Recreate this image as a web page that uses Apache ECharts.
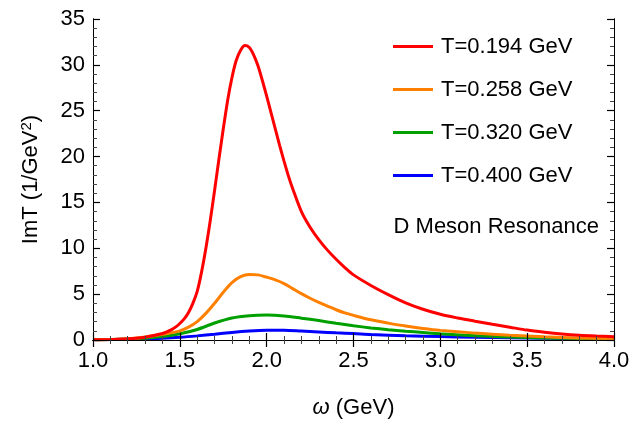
<!DOCTYPE html>
<html>
<head>
<meta charset="utf-8">
<script src="https://cdn.jsdelivr.net/npm/echarts@6/dist/echarts.min.js"></script>
<style>
html,body{margin:0;padding:0;background:#fff;}
#wrap{position:relative;width:644px;height:428px;}
#ticks,#chart{position:absolute;left:0;top:0;width:644px;height:428px;}
#chart{z-index:1;}
#ticks{z-index:2;pointer-events:none;}
</style>
</head>
<body>
<div id="wrap"><div id="chart"></div><div id="ticks"></div></div>
<script>
// ---- data ----
const seriesNames = ["T=0.194 GeV", "T=0.258 GeV", "T=0.320 GeV", "T=0.400 GeV"];

const omegaRed = [1.0,1.1,1.2,1.3,1.4,1.425,1.45,1.475,1.5,1.525,1.55,1.575,1.6,1.625,1.65,1.675,1.7,1.725,1.75,1.775,1.8,1.825,1.85,1.875,1.9,1.925,1.95,1.975,2.0,2.025,2.05,2.075,2.1,2.125,2.15,2.2,2.25,2.3,2.35,2.4,2.45,2.5,2.6,2.7,2.8,2.9,3.0,3.1,3.2,3.3,3.4,3.5,3.6,3.7,3.8,3.9,4.0];
const imtRed   = [0.02,0.06,0.13,0.3,0.7,0.88,1.1,1.4,1.8,2.3,3.0,4.0,5.3,7.4,10.0,13.0,16.3,19.7,23.0,26.1,28.6,30.5,31.6,32.1,31.9,31.1,29.9,28.3,26.6,24.8,23.0,21.2,19.5,17.9,16.5,14.0,12.3,10.95,9.8,8.8,7.9,7.1,5.95,4.95,4.05,3.35,2.8,2.4,2.05,1.72,1.4,1.08,0.85,0.66,0.52,0.43,0.36];

const omegaOrange = [1.0,1.1,1.2,1.3,1.4,1.5,1.55,1.6,1.65,1.7,1.75,1.8,1.85,1.9,1.95,2.0,2.05,2.1,2.15,2.2,2.25,2.3,2.35,2.4,2.45,2.5,2.6,2.7,2.8,2.9,3.0,3.2,3.4,3.6,3.8,4.0];
const imtOrange   = [0.02,0.06,0.15,0.33,0.62,1.0,1.4,2.0,2.9,4.0,5.2,6.25,6.9,7.15,7.1,6.85,6.55,6.15,5.6,5.05,4.55,4.1,3.7,3.3,2.95,2.68,2.2,1.84,1.52,1.26,1.05,0.75,0.52,0.35,0.23,0.15];

const omegaGreen = [1.0,1.1,1.2,1.3,1.4,1.5,1.6,1.7,1.8,1.9,2.0,2.1,2.2,2.3,2.4,2.5,2.6,2.7,2.8,2.9,3.0,3.2,3.4,3.6,3.8,4.0];
const imtGreen   = [0.02,0.05,0.1,0.2,0.38,0.68,1.15,1.85,2.4,2.65,2.72,2.62,2.38,2.12,1.82,1.55,1.32,1.12,0.96,0.82,0.68,0.46,0.32,0.22,0.15,0.1];

const omegaBlue = [1.0,1.2,1.4,1.5,1.6,1.7,1.8,1.9,2.0,2.1,2.2,2.3,2.4,2.5,2.6,2.8,3.0,3.2,3.4,3.6,3.8,4.0];
const imtBlue   = [0.02,0.07,0.2,0.3,0.45,0.63,0.82,0.97,1.06,1.07,0.98,0.88,0.78,0.7,0.6,0.46,0.37,0.3,0.24,0.19,0.15,0.12];

const xTicks = [1.0, 1.5, 2.0, 2.5, 3.0, 3.5, 4.0];
const yTicks = [0, 5, 10, 15, 20, 25, 30, 35];

const colors = ["#ff0000", "#ff8000", "#00a000", "#0000ff"];
// ----------------------------------------

function pairs(xs, ys){ return xs.map((x,i)=>[x, ys[i]]); }
const allData = [pairs(omegaRed, imtRed), pairs(omegaOrange, imtOrange), pairs(omegaGreen, imtGreen), pairs(omegaBlue, imtBlue)];

const FONT = "Liberation Sans, Arial, sans-serif";
const GRID = {left: 93, right: 30, top: 19, bottom: 88};

// ---- the chart itself (bottom layer) ----
function xAxisCfg(pos, showLabel){
  return {
    type: 'value', position: pos, min: xTicks[0], max: xTicks[xTicks.length-1], interval: 0.5,
    axisLine: {show: true, lineStyle: {color: '#000', width: 1}},
    axisTick: {show: false}, minorTick: {show: false},
    splitLine: {show: false},
    axisLabel: {show: showLabel, color: '#000', fontSize: 22, fontFamily: FONT, margin: 10,
      formatter: v => v.toFixed(1)},
    name: showLabel ? '{i|ω} (GeV)' : '',
    nameLocation: 'middle', nameGap: 57,
    nameTextStyle: {color: '#000', fontSize: 22, fontFamily: FONT,
      rich: {i: {fontStyle: 'italic', fontSize: 22, fontFamily: FONT, color: '#000'}}}
  };
}
function yAxisCfg(pos, showLabel){
  return {
    type: 'value', position: pos, min: yTicks[0], max: yTicks[yTicks.length-1], interval: 5,
    axisLine: {show: true, lineStyle: {color: '#000', width: 1}},
    axisTick: {show: false}, minorTick: {show: false},
    splitLine: {show: false},
    axisLabel: {show: showLabel, color: '#000', fontSize: 22, fontFamily: FONT, margin: 8},
    name: showLabel ? 'ImT (1/GeV{sup|2})' : '',
    nameLocation: 'middle', nameGap: 51,
    nameTextStyle: {color: '#000', fontSize: 22, fontFamily: FONT,
      rich: {sup: {fontSize: 15, fontFamily: FONT, color: '#000', verticalAlign: 'top', padding: [0,0,8,0]}}}
  };
}

const chart = echarts.init(document.getElementById('chart'));
chart.setOption({
  animation: false,
  backgroundColor: '#fff',
  grid: GRID,
  title: {text: 'D Meson Resonance', right: 45, top: 216, padding: 0,
    textStyle: {color: '#000', fontSize: 22, fontWeight: 'normal', fontFamily: FONT}},
  legend: {
    orient: 'vertical', left: 393, top: 34, padding: 0,
    icon: 'rect', itemWidth: 40, itemHeight: 3, itemGap: 18,
    textStyle: {color: '#000', fontSize: 22, fontFamily: FONT, padding: [0,0,0,3], lineHeight: 25},
    data: seriesNames
  },
  xAxis: [xAxisCfg('bottom', true), xAxisCfg('top', false)],
  yAxis: [yAxisCfg('left', true), yAxisCfg('right', false)],
  series: seriesNames.map((n, i) => ({
    name: n, type: 'line', xAxisIndex: 0, yAxisIndex: 0,
    data: allData[i], smooth: 0.3, symbol: 'none', showSymbol: false,
    lineStyle: {color: colors[i], width: 3}, itemStyle: {color: colors[i]},
    z: 10 - i
  }))
});

// ---- frame ticks on all four sides (top layer, transparent) ----
function tickAxis(pos, min, max, interval){
  return {
    type: 'value', position: pos, min: min, max: max, interval: interval,
    axisLine: {show: true, lineStyle: {color: '#000'}},
    axisTick: {show: true, inside: true, length: 7, lineStyle: {color: '#000', width: 1.2}},
    minorTick: {show: true, splitNumber: 5, length: 4, lineStyle: {color: '#444', width: 1}},
    splitLine: {show: false},
    axisLabel: {show: false}
  };
}
const tickChart = echarts.init(document.getElementById('ticks'));
tickChart.setOption({
  animation: false,
  backgroundColor: 'transparent',
  grid: GRID,
  xAxis: [tickAxis('bottom', xTicks[0], xTicks[xTicks.length-1], 0.5),
          tickAxis('top', xTicks[0], xTicks[xTicks.length-1], 0.5)],
  yAxis: [tickAxis('left', yTicks[0], yTicks[yTicks.length-1], 5),
          tickAxis('right', yTicks[0], yTicks[yTicks.length-1], 5)],
  series: [{type: 'line', data: [], symbol: 'none'}]
});
</script>
</body>
</html>
